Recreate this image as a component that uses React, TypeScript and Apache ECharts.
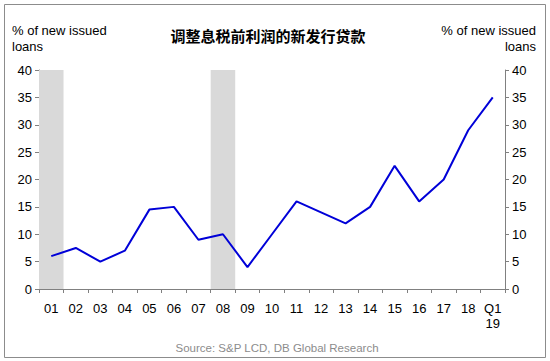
import React, { useEffect, useRef } from "react";
import * as echarts from "echarts";

const categories = ["01", "02", "03", "04", "05", "06", "07", "08", "09", "10", "11", "12", "13", "14", "15", "16", "17", "18", "Q1\n19"];
const loanShare = [6, 7.5, 5, 7, 14.5, 15, 9, 10, 4, 10, 16, 14, 12, 15, 22.5, 16, 20, 29, 35];
const recessionShade = [40, null, null, null, null, null, null, 40, null, null, null, null, null, null, null, null, null, null, null];
const yMin = 0;
const yMax = 40;
const yInterval = 5;
const titleText = "调整息税前利润的新发行贷款";
const axisNameText = "% of new issued\nloans";
const sourceText = "Source: S&P LCD, DB Global Research";

const FONT = "'Liberation Sans', Arial, sans-serif";

export default function App() {
  const ref = useRef<HTMLDivElement>(null);
  useEffect(() => {
    if (!ref.current) return;
    const chart = echarts.init(ref.current, null, { renderer: "svg" });
    const axisColor = "#808080";
    const yAxisCommon = {
      type: "value" as const,
      min: yMin,
      max: yMax,
      interval: yInterval,
      splitLine: { show: false },
      axisLine: { show: true, lineStyle: { color: axisColor, width: 1 } },
      axisTick: { show: true, length: 4, lineStyle: { color: axisColor } },
      axisLabel: { color: "#000", fontSize: 13, fontFamily: FONT, margin: 7 },
    };
    chart.setOption({
      animation: false,
      backgroundColor: "#fff",
      grid: { left: 39, right: 45, top: 70, bottom: 72 },
      xAxis: {
        type: "category",
        data: categories,
        boundaryGap: true,
        axisLine: { show: true, lineStyle: { color: axisColor, width: 1 } },
        axisTick: { show: true, length: 4, alignWithLabel: false, lineStyle: { color: axisColor } },
        axisLabel: { color: "#000", fontSize: 13, fontFamily: FONT, margin: 12, interval: 0, lineHeight: 15 },
      },
      yAxis: [
        { ...yAxisCommon, position: "left" },
        { ...yAxisCommon, position: "right" },
      ],
      series: [
        {
          type: "bar",
          data: recessionShade,
          barWidth: "100%",
          itemStyle: { color: "#d9d9d9" },
          silent: true,
          z: 1,
        },
        {
          type: "line",
          data: loanShare,
          symbol: "none",
          lineStyle: { color: "#0000d8", width: 2 },
          z: 3,
        },
      ],
      graphic: [
        {
          type: "rect",
          shape: { x: 4.5, y: 4.5, width: 541, height: 353 },
          style: { fill: "none", stroke: "#8c8c8c", lineWidth: 1 },
          silent: true,
        },
        {
          type: "text",
          x: 268,
          y: 35,
          style: {
            text: titleText,
            fill: "#000",
            font: "bold 15px 'Noto Sans CJK SC', sans-serif",
            textAlign: "center",
            textVerticalAlign: "middle",
          },
        },
        {
          type: "text",
          x: 12,
          y: 22,
          style: {
            text: axisNameText,
            fill: "#000",
            font: `13px ${FONT}`,
            textAlign: "left",
            lineHeight: 16,
          },
        },
        {
          type: "text",
          x: 536,
          y: 22,
          style: {
            text: axisNameText,
            fill: "#000",
            font: `13px ${FONT}`,
            textAlign: "right",
            lineHeight: 16,
          },
        },
        {
          type: "text",
          x: 277,
          y: 348,
          style: {
            text: sourceText,
            fill: "#8c8c8c",
            font: `11.5px ${FONT}`,
            textAlign: "center",
            textVerticalAlign: "middle",
          },
        },
      ],
    });
    return () => chart.dispose();
  }, []);
  return <div ref={ref} style={{ position: "absolute", left: 0, top: 0, width: 550, height: 361 }} />;
}
